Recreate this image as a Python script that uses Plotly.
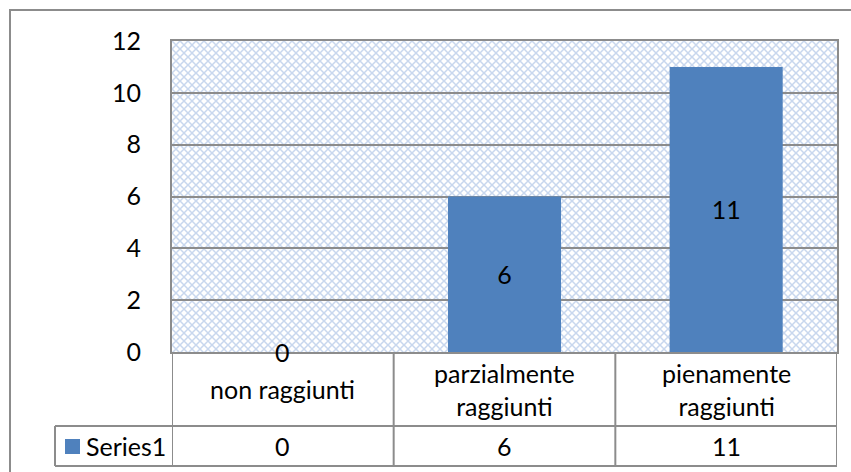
import base64
import plotly.graph_objects as go

# ---- data ----
categories = ["non raggiunti", "parzialmente raggiunti", "pienamente raggiunti"]
category_labels = ["non raggiunti", "parzialmente<br>raggiunti", "pienamente<br>raggiunti"]
series_name = "Series1"
values = [0, 6, 11]
y_ticks = [0, 2, 4, 6, 8, 10, 12]

BAR = "#4F81BD"
GRAY = "#8C8C8C"
FONT = "Lato"
FS = 25

W, H = 851, 472
L, R, T, B = 172, 837, 41, 352
PW, PH = R - L, B - T


def px_x(p):
    return (p - L) / PW


def px_y(p):
    return (B - p) / PH


# background pattern (Excel-like light blue outlined-diamond pattern)
svg = f'''<svg xmlns="http://www.w3.org/2000/svg" width="{PW}" height="{PH}">
<defs><pattern id="p" width="8" height="8" patternUnits="userSpaceOnUse">
<rect width="8" height="8" fill="#ffffff"/>
<path d="M0,0 L8,8 M8,0 L0,8" stroke="#C8D7EE" stroke-width="1.5"/>
</pattern></defs>
<rect width="{PW}" height="{PH}" fill="url(#p)"/></svg>'''
src = "data:image/svg+xml;base64," + base64.b64encode(svg.encode()).decode()

fig = go.Figure()
fig.add_trace(go.Bar(
    x=categories, y=values, name=series_name,
    marker=dict(color=BAR, line=dict(width=0)),
    width=0.51,
    text=[str(v) if v else "" for v in values],
    textposition="inside", insidetextanchor="middle",
    constraintext="none", cliponaxis=False,
    textfont=dict(family=FONT, size=FS, color="black"),
    showlegend=False, hoverinfo="skip",
))

shapes = []
# outer chart border
shapes.append(dict(type="rect", xref="paper", yref="paper",
                   x0=px_x(10), x1=px_x(1000), y0=px_y(10), y1=px_y(600),
                   line=dict(color=GRAY, width=2), fillcolor="rgba(0,0,0,0)", layer="below"))
# table vertical lines
for k in range(len(categories) + 1):
    shapes.append(dict(type="line", xref="x", yref="paper",
                       x0=k - 0.5, x1=k - 0.5, y0=px_y(352), y1=px_y(466),
                       line=dict(color=GRAY, width=2)))
shapes.append(dict(type="line", xref="paper", yref="paper",
                   x0=px_x(55), x1=px_x(55), y0=px_y(426), y1=px_y(466),
                   line=dict(color=GRAY, width=2)))
# table horizontal lines
for yy in (426, 466):
    shapes.append(dict(type="line", xref="paper", yref="paper",
                       x0=px_x(55), x1=1, y0=px_y(yy), y1=px_y(yy),
                       line=dict(color=GRAY, width=2)))
# legend key
shapes.append(dict(type="rect", xref="paper", yref="paper",
                   x0=px_x(65), x1=px_x(80), y0=px_y(439), y1=px_y(454),
                   fillcolor=BAR, line=dict(width=0)))

annotations = []
# zero-height bar label sits on the axis
for i, v in enumerate(values):
    if v == 0:
        annotations.append(dict(x=categories[i], y=v, xref="x", yref="y",
                                text=str(v), showarrow=False, yanchor="middle",
                                font=dict(family=FONT, size=FS, color="black")))
for i, lab in enumerate(category_labels):
    annotations.append(dict(x=categories[i], y=px_y(389), xref="x", yref="paper",
                            text=lab, showarrow=False, yanchor="middle",
                            font=dict(family=FONT, size=FS, color="black")))
    annotations.append(dict(x=categories[i], y=px_y(446), xref="x", yref="paper",
                            text=str(values[i]), showarrow=False, yanchor="middle",
                            font=dict(family=FONT, size=FS, color="black")))
annotations.append(dict(x=px_x(84), y=px_y(446), xref="paper", yref="paper",
                        text=series_name, showarrow=False, xanchor="left", yanchor="middle",
                        font=dict(family=FONT, size=FS, color="black")))

fig.update_layout(
    width=W, height=H,
    margin=dict(l=L, r=W - R, t=T, b=H - B),
    paper_bgcolor="white", plot_bgcolor="white",
    font=dict(family=FONT, size=FS, color="black"),
    shapes=shapes, annotations=annotations,
    images=[dict(source=src, xref="paper", yref="paper", x=0, y=1,
                 sizex=1, sizey=1, xanchor="left", yanchor="top",
                 sizing="stretch", layer="below")],
    xaxis=dict(range=[-0.5, 2.5], showticklabels=False, showgrid=False,
               showline=True, linecolor=GRAY, linewidth=2, mirror=True,
               ticks="", zeroline=False),
    yaxis=dict(range=[0, 12], tickvals=y_ticks, showgrid=True, gridcolor=GRAY,
               gridwidth=1.5, showline=True, linecolor=GRAY, linewidth=2,
               mirror=True, ticks="", zeroline=False, ticklabelstandoff=24,
               tickfont=dict(family=FONT, size=FS, color="black")),
    bargap=0.49,
    hovermode=False,
)

fig.write_html(
    "out.html",
    config={"displayModeBar": False},
    post_script="document.body.style.margin='0';document.body.style.overflow='hidden';",
)
